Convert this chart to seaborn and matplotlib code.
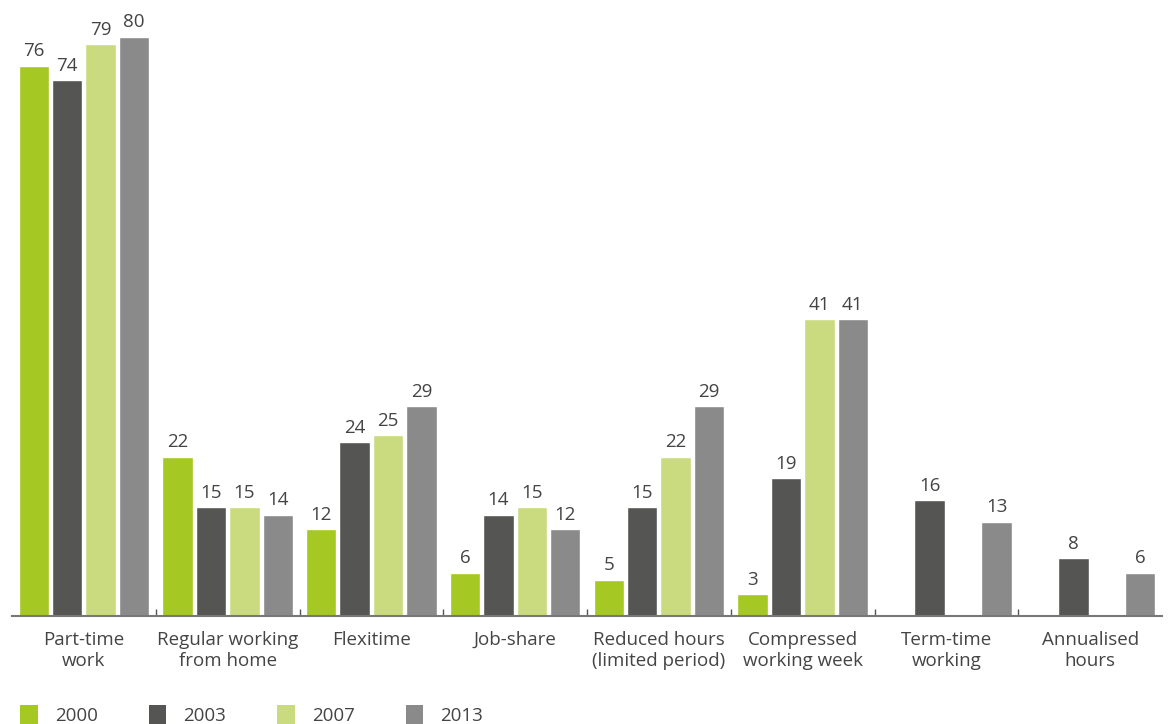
import numpy as np
import pandas as pd
import matplotlib
matplotlib.use("Agg")
import matplotlib.pyplot as plt
import seaborn as sns
from matplotlib.patches import Patch

categories = ["Part-time\nwork", "Regular working\nfrom home", "Flexitime", "Job-share",
              "Reduced hours\n(limited period)", "Compressed\nworking week",
              "Term-time\nworking", "Annualised\nhours"]
years = ["2000", "2003", "2007", "2013"]
v2000 = [76, 22, 12, 6, 5, 3, np.nan, np.nan]
v2003 = [74, 15, 24, 14, 15, 19, 16, 8]
v2007 = [79, 15, 25, 15, 22, 41, np.nan, np.nan]
v2013 = [80, 14, 29, 12, 29, 41, 13, 6]
colors = ["#a5c822", "#555553", "#cadb7f", "#8a8a8a"]

series = [v2000, v2003, v2007, v2013]
rows = []
for y, vals in zip(years, series):
    for c, v in zip(categories, vals):
        rows.append({"category": c, "year": y, "value": v})
df = pd.DataFrame(rows)

sns.set_theme(style="white")
plt.rcParams['font.family'] = ['Open Sans', 'DejaVu Sans']
text_color = "#444444"
fs = 13.5

fig = plt.figure(figsize=(11.68, 7.24), dpi=100)
ax = fig.add_axes([12/1168, 108/724, 1150/1168, (616-37)/724])

sns.barplot(data=df, x="category", y="value", hue="year", palette=colors,
            hue_order=years, order=categories, width=0.93, gap=0.09,
            saturation=1, ax=ax, legend=False, errorbar=None)

for cont in ax.containers:
    for bar in cont:
        if bar is None:
            continue
        h = bar.get_height()
        if h is None or np.isnan(h):
            continue
        ax.annotate(f"{int(round(h))}", (bar.get_x() + bar.get_width() / 2, h),
                    xytext=(0, 4), textcoords="offset points", ha="center", va="bottom",
                    fontsize=fs, color=text_color, annotation_clip=False)

ax.set_xlim(-0.5, 7.5)
ax.set_ylim(0, 80)
ax.set_xlabel("")
ax.set_ylabel("")
ax.set_yticks([])
for s in ["left", "top", "right"]:
    ax.spines[s].set_visible(False)
ax.spines["bottom"].set_color("#777777")
ax.spines["bottom"].set_linewidth(1.5)

ax.set_xticks(range(len(categories)))
ax.set_xticklabels(categories, fontsize=fs, color=text_color, linespacing=1.2)
ax.tick_params(axis="x", which="major", length=0, pad=11)
ax.set_xticks(np.arange(0.5, 7.5, 1.0), minor=True)
ax.tick_params(axis="x", which="minor", direction="in", length=5, width=1, color="#555555", bottom=True)

handles = [Patch(facecolor=c, edgecolor="none") for c in colors]
fig.legend(handles, years, loc="center left", bbox_to_anchor=(20/1168, 9/724), ncol=4,
           frameon=False, fontsize=fs, handlelength=0.95, handleheight=1.3,
           columnspacing=2.72, handletextpad=0.9, labelcolor=text_color,
           borderaxespad=0, borderpad=0)

fig.savefig("out.png", dpi=100, facecolor="white")
